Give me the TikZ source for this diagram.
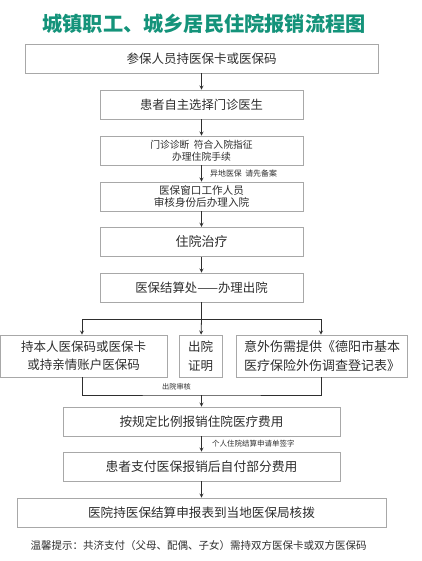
\documentclass[tikz,border=0pt]{standalone}
\usepackage{fontspec}
\setmainfont{Noto Sans CJK SC}
\definecolor{titlegreen}{HTML}{14937A}
\definecolor{boxgray}{HTML}{A8A8A8}
\definecolor{inkgray}{HTML}{2E2E2E}
\newcommand{\arrowS}[2]{\draw[arrow] (#1) -- (#2);}
\newcommand{\fs}[1]{\fontsize{#1}{#1}\selectfont}

\begin{document}
\begin{tikzpicture}
                [x=1pt,y=-1pt,
                box/.style={rectangle,draw=boxgray,line width=0.8pt,fill=white,text=inkgray,minimum height=29pt,inner sep=0pt,align=center,font=\fs{12.5}},
                smallbox/.style={box,font=\fs{10}},
                note/.style={text=inkgray,inner sep=0pt,font=\fs{7.5}},
                arrow/.style={->,>=stealth,line width=0.8pt,draw=inkgray},
                line/.style={line width=0.8pt,draw=inkgray},
                ]
                \useasboundingbox (0,0) rectangle (422,561);
                \node[text=titlegreen,font=\fs{20.2}\bfseries] (title) at (204,23.5) {城镇职工、城乡居民住院报销流程图};
                % main column
                \node[box, minimum width=353pt] (n1) at (201.5,58.5) {参保人员持医保卡或医保码};
                \node[box, minimum width=203pt, font=\fs{12.3}] (n2) at (201.5,104.5) {患者自主选择门诊医生};
                \node[smallbox, minimum width=203pt, font=\fs{9.8}] (n3) at (201.5,150.5) {门诊诊断\ \ 符合入院指征\\[2pt]办理住院手续};
                \node[smallbox, minimum width=203pt, font=\fs{10.6}] (n4) at (201.5,196.5) {医保窗口工作人员\\[2pt]审核身份后办理入院};
                \node[box, minimum width=203pt, font=\fs{13}] (n5) at (201.5,241.7) {住院治疗};
                \node[box, minimum width=203pt, font=\fs{12.4}] (n6) at (201.5,287.5) {医保结算处——办理出院};
                % three branches
                \node[box, minimum width=167pt, minimum height=42pt] (left) at (83.5,356) {持本人医保码或医保卡\\[6pt]或持亲情账户医保码};
                \node[box, minimum width=43pt, minimum height=42pt] (mid) at (200.5,356) {出院\\[6pt]证明};
                \node[box, minimum width=171pt, minimum height=42pt, font=\fs{13}] (right) at (322,356) {意外伤需提供《德阳市基本\\[6pt]医疗保险外伤调查登记表》};
                \coordinate (split) at (201.5,319);
                \coordinate (join) at (201.5,395);
                % lower column
                \node[box, minimum width=277pt, font=\fs{12.6}] (n7) at (201.5,421.5) {按规定比例报销住院医疗费用};
                \node[box, minimum width=277pt, font=\fs{12.8}] (n8) at (201.5,466.5) {患者支付医保报销后自付部分费用};
                \node[box, minimum width=369pt, font=\fs{12.6}] (n9) at (201.5,512.5) {医院持医保结算申报表到当地医保局核拨};
                \node[text=inkgray, font=\fs{10.5}] (tip) at (198.5,546) {温馨提示：共济支付（父母、配偶、子女）需持双方医保卡或双方医保码};
                % connectors
                \arrowS{n1}{n2}
                \arrowS{n2}{n3}
                \arrowS{n3}{n4}
                \arrowS{n4}{n5}
                \arrowS{n5}{n6}
                \draw[line] (n6) -- (split);
                \draw[arrow] (split) -| (left.north -| 82,0);
                \draw[arrow] (split) -| (right.north -| 321,0);
                \arrowS{split}{mid}
                \draw[line] (left.south -| 82,0) |- (join) -| (right.south -| 321,0);
                \arrowS{join}{n7}
                \arrowS{n7}{n8}
                \arrowS{n8}{n9}
                % labels beside arrows
                \node[note, anchor=west, font=\fs{7.9}] (lab1) at (210,173) {异地医保\ \ 请先备案};
                \node[note, font=\fs{7.2}] (lab2) at (176.5,387) {出院审核};
                \node[note, anchor=west] (lab3) at (212,444) {个人住院结算申请单签字};
            \end{tikzpicture}
\end{document}
